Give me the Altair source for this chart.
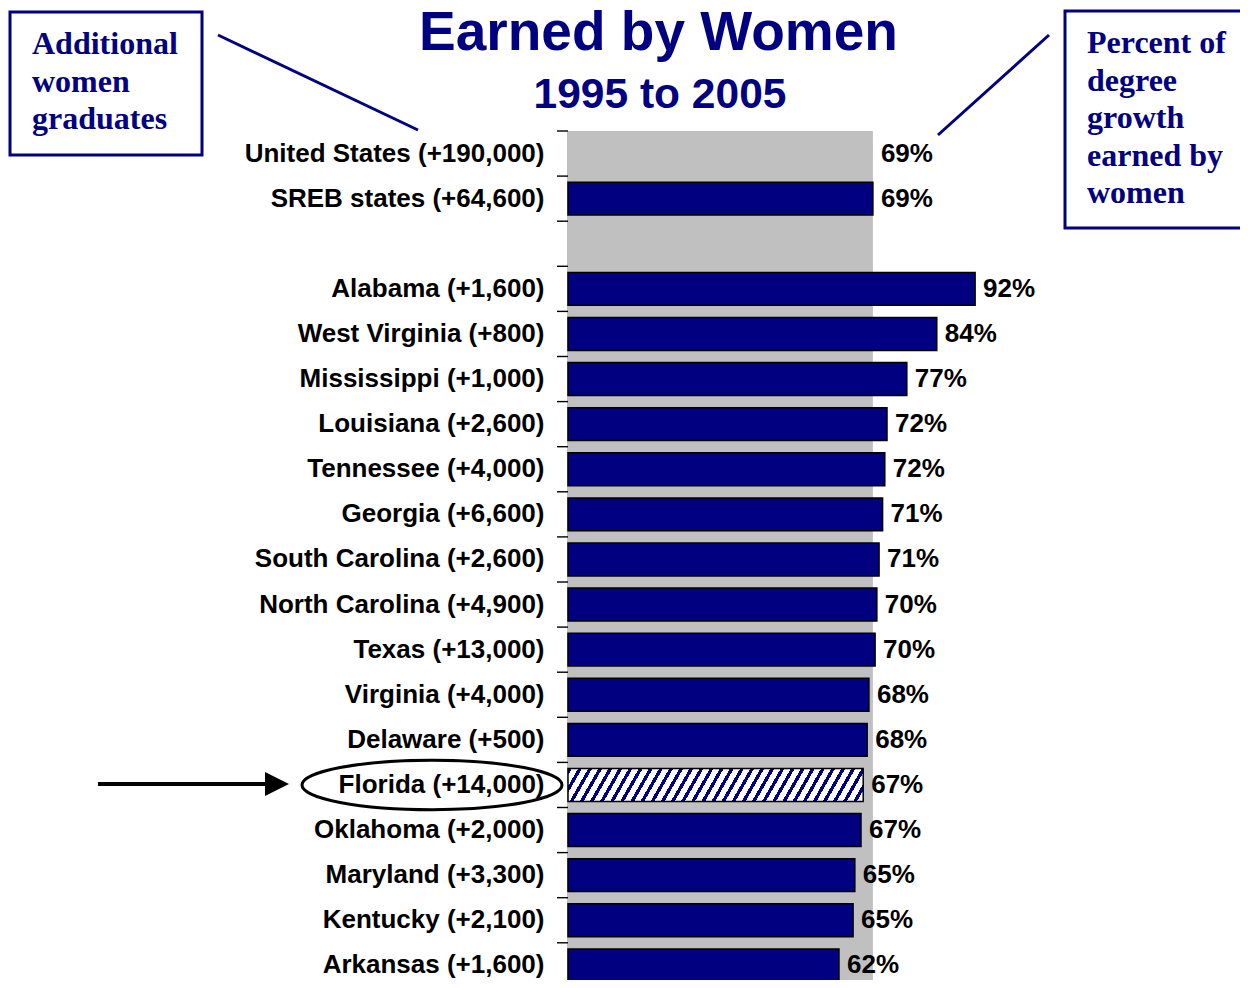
import altair as alt
import pandas as pd

# ---------------- data ----------------
names = ["United States", "SREB states", "Alabama", "West Virginia", "Mississippi",
         "Louisiana", "Tennessee", "Georgia", "South Carolina", "North Carolina",
         "Texas", "Virginia", "Delaware", "Florida", "Oklahoma", "Maryland",
         "Kentucky", "Arkansas"]
added = ["+190,000", "+64,600", "+1,600", "+800", "+1,000", "+2,600", "+4,000",
         "+6,600", "+2,600", "+4,900", "+13,000", "+4,000", "+500", "+14,000",
         "+2,000", "+3,300", "+2,100", "+1,600"]
pct = [69.2, 69.2, 92.4, 83.7, 76.9, 72.4, 71.9, 71.4, 70.6, 70.1, 69.7, 68.3,
       67.9, 67.0, 66.5, 65.1, 64.7, 61.5]
shown = [69, 69, 92, 84, 77, 72, 72, 71, 71, 70, 70, 68, 68, 67, 67, 65, 65, 62]

rows = [f"{n} ({a})" for n, a in zip(names, added)]
domain = rows[:2] + [" "] + rows[2:]
df = pd.DataFrame({"row": rows, "name": names, "pct": pct,
                   "label": [f"{s}%" for s in shown]})
ticks_df = pd.DataFrame({"row": domain})

# ---------------- layout ----------------
NAVY = "#000080"
GRAY = "#C0C0C0"
X0, Y0 = 568, 131          # page position of plot origin
W_PLOT = 440.6
STEP = 45.1
H_FULL = STEP * len(domain)     # full band range (runs past the page bottom)
SVG_W, SVG_H = 1232, 972        # keep the page free of scrollbars
H_VIEW = SVG_H - (Y0 - 8)
PAD_IN = 0.27
LABEL_FONT = "Liberation Sans, Arial, sans-serif"
SANS = "Liberation Sans, Arial, sans-serif"
SERIF = "Liberation Serif, Times New Roman, serif"


def px(v):
    return v - X0


def py(v):
    return v - Y0


y_scale = alt.Scale(domain=domain, range=[0, H_FULL],
                    paddingInner=PAD_IN, paddingOuter=PAD_IN / 2)
y_enc = alt.Y("row:N", scale=y_scale,
              axis=alt.Axis(title=None, domainColor="black", domainWidth=1.5,
                            ticks=False, labelFont=LABEL_FONT, labelFontSize=26,
                            labelFontWeight="bold", labelColor="black",
                            labelPadding=24, labelLimit=500, grid=False))
x_scale = alt.Scale(domain=[0, 100], nice=False, zero=True)
x_enc = alt.X("pct:Q", scale=x_scale, axis=None)

base = alt.Chart(df)

band = base.transform_filter(alt.datum.name == "United States").mark_rect(
    color=GRAY).encode(x=x_enc, x2=alt.datum(0), y=alt.value(0), y2=alt.value(H_FULL + 4))

# category-boundary ticks on the left of the axis line
ticks = alt.Chart(ticks_df).mark_rule(color="black", strokeWidth=1.4,
                                      yOffset=-STEP / 2).encode(
    y=y_enc, x=alt.value(-11), x2=alt.value(0))

bars = base.transform_filter(
    (alt.datum.name != "United States") & (alt.datum.name != "Florida")
).mark_bar(fill=NAVY, stroke="black", strokeWidth=1.5).encode(y=y_enc, x=x_enc)

# hatched Florida bar via a hard-stop linear gradient (slanted "/" stripes)
fl_w = pct[names.index("Florida")] * W_PLOT / 100
fl_h = STEP * (1 - PAD_IN)
r = fl_h / fl_w
m = 0.57                      # horizontal shift per vertical pixel of a stripe
k = (1 + m * r) / (1 + m * m * r * r)
n_stripes = round((fl_w + m * fl_h) / 10)
stops = []
for i in range(n_stripes):
    a = i / n_stripes
    b = (i + 0.38) / n_stripes
    c = (i + 1) / n_stripes
    stops += [alt.GradientStop(color=NAVY, offset=a), alt.GradientStop(color=NAVY, offset=b),
              alt.GradientStop(color="white", offset=b), alt.GradientStop(color="white", offset=c)]
hatch = alt.LinearGradient(gradient="linear", stops=stops, x1=0, y1=0, x2=k, y2=k * m * r)

florida = base.transform_filter(alt.datum.name == "Florida").mark_bar(
    fill=hatch, stroke="black", strokeWidth=1.5).encode(y=y_enc, x=x_enc)

values = base.mark_text(align="left", baseline="middle", dx=8, font=LABEL_FONT,
                        fontSize=26, fontWeight="bold", color="black").encode(
    y=y_enc, x=x_enc, text="label:N")

# ---------------- annotations ----------------
one = alt.Chart(pd.DataFrame({"a": [0]}))

title1 = one.mark_text(text="Earned by Women", font=SANS, fontSize=55, fontWeight="bold",
                       color=NAVY, align="center", baseline="alphabetic").encode(
    x=alt.value(px(658.5)), y=alt.value(py(50)))
title2 = one.mark_text(text="1995 to 2005", font=SANS, fontSize=42.5, fontWeight="bold",
                       color=NAVY, align="center", baseline="alphabetic").encode(
    x=alt.value(px(660)), y=alt.value(py(108)))

box_l = one.mark_rect(fill="white", stroke=NAVY, strokeWidth=3).encode(
    x=alt.value(px(10)), x2=alt.value(px(202)), y=alt.value(py(12)), y2=alt.value(py(155)))
text_l = one.mark_text(text=["Additional", "women", "graduates"], font=SERIF, fontSize=32,
                       fontWeight="bold", color=NAVY, align="left", baseline="alphabetic",
                       lineHeight=37.5).encode(x=alt.value(px(32)), y=alt.value(py(54)))
line_l = one.mark_rule(color=NAVY, strokeWidth=3).encode(
    x=alt.value(px(218)), x2=alt.value(px(418)), y=alt.value(py(35)), y2=alt.value(py(130)))

box_r = one.mark_rect(fill="white", stroke=NAVY, strokeWidth=3).encode(
    x=alt.value(px(1065)), x2=alt.value(px(1275)), y=alt.value(py(11)), y2=alt.value(py(228)))
text_r = one.mark_text(text=["Percent of", "degree", "growth", "earned by", "women"],
                       font=SERIF, fontSize=32, fontWeight="bold", color=NAVY,
                       align="left", baseline="alphabetic", lineHeight=37.5).encode(
    x=alt.value(px(1087)), y=alt.value(py(53)))
line_r = one.mark_rule(color=NAVY, strokeWidth=3).encode(
    x=alt.value(px(1049)), x2=alt.value(px(938)), y=alt.value(py(35)), y2=alt.value(py(135)))

arrow = one.mark_rule(color="black", strokeWidth=4).encode(
    x=alt.value(px(98)), x2=alt.value(px(268)), y=alt.value(py(784)), y2=alt.value(py(784)))
head = one.mark_point(shape="M -1 -1 L 1 0 L -1 1 Z", filled=True, fill="black",
                      stroke="black", strokeWidth=0, size=24 * 24, opacity=1).encode(
    x=alt.value(px(277)), y=alt.value(py(784)))
ellipse = one.mark_point(shape="M -1 0 A 1 0.19 0 1 1 1 0 A 1 0.19 0 1 1 -1 0 Z",
                         filled=False, stroke="black", strokeWidth=3, size=260 * 260,
                         opacity=1).encode(x=alt.value(px(432)), y=alt.value(py(785)))

chart = alt.layer(band, ticks, bars, florida, values, title1, title2, box_l, text_l, line_l,
                  box_r, text_r, line_r, arrow, head, ellipse).properties(
    width=W_PLOT, height=H_VIEW,
    autosize=alt.AutoSizeParams(type="none"),
    padding={"left": X0 - 8, "top": Y0 - 8, "right": SVG_W - (X0 - 8) - W_PLOT, "bottom": 0},
    background="white",
).configure_view(stroke=None)

chart.save("out.html", embed_options={"renderer": "svg", "actions": False})
